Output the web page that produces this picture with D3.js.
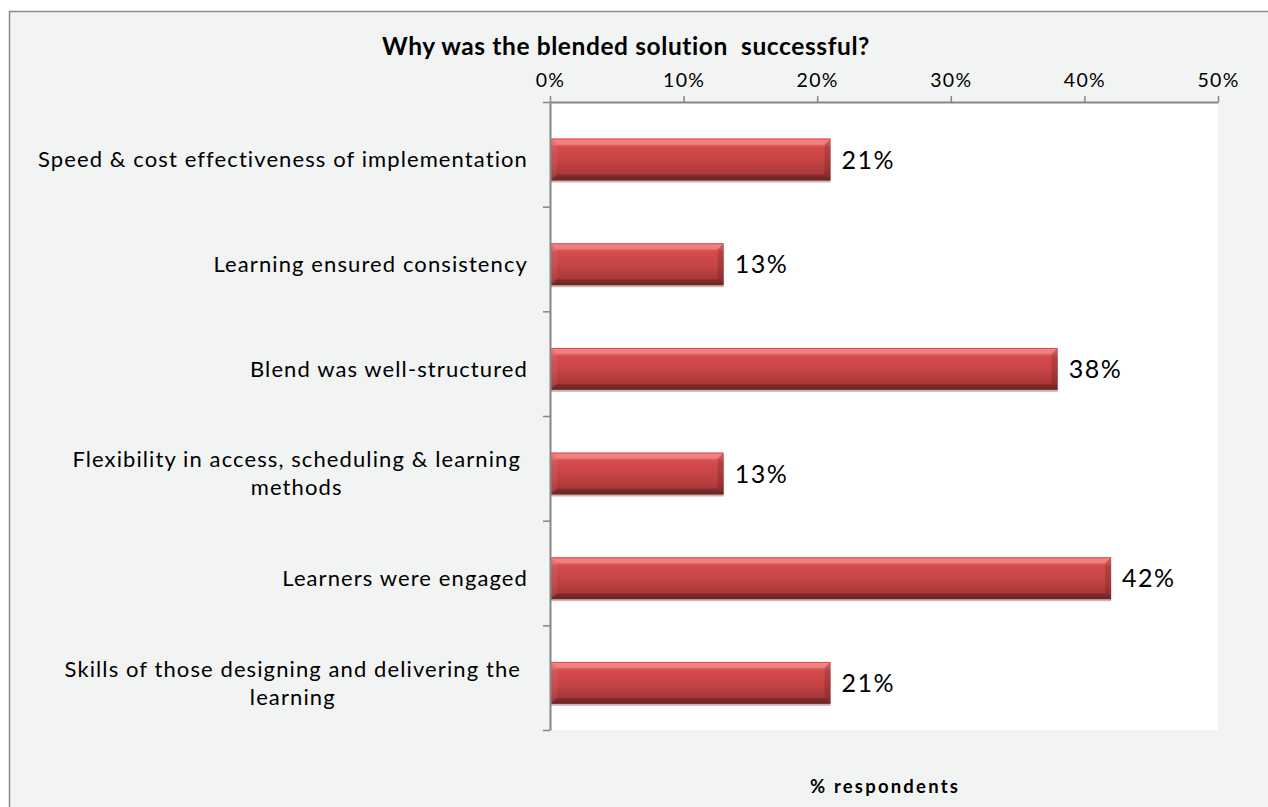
<!DOCTYPE html>
<html>
<head>
<meta charset="utf-8">
<script src="https://cdn.jsdelivr.net/npm/d3@7"></script>
<style>
  html, body { margin: 0; padding: 0; background: #ffffff; }
  svg { display: block; }
  text { font-family: Lato, "Open Sans", sans-serif; fill: #000; white-space: pre; }
</style>
</head>
<body>
<svg id="chart" width="1268" height="807"></svg>
<script>
// Survey results: reasons the blended solution was successful
const categories = [
  "Speed & cost effectiveness of implementation",
  "Learning ensured consistency",
  "Blend was well-structured",
  "Flexibility in access, scheduling & learning\nmethods",
  "Learners were engaged",
  "Skills of those designing and delivering the\nlearning"
];
const values = [0.21, 0.13, 0.38, 0.13, 0.42, 0.21];
const tickValues = [0, 0.1, 0.2, 0.3, 0.4, 0.5];
const chartTitle = "Why was the blended solution  successful?";
const axisTitle = "% respondents";

const W = 1268, H = 807;
const plot = { left: 550, right: 1218, top: 102, bottom: 730 };

const svg = d3.select("#chart");
const defs = svg.append("defs");

// Panel background and frame
svg.append("rect").attr("x", 0).attr("y", 0).attr("width", W).attr("height", H).attr("fill", "#ffffff");
svg.append("rect")
  .attr("x", 9.5).attr("y", 11.5).attr("width", W + 20).attr("height", H + 20)
  .attr("fill", "#f2f3f3").attr("stroke", "#8a8a8a").attr("stroke-width", 1.5);

// Plot area
svg.append("rect")
  .attr("x", plot.left).attr("y", plot.top)
  .attr("width", plot.right - plot.left).attr("height", plot.bottom - plot.top)
  .attr("fill", "#ffffff");

const x = d3.scaleLinear().domain([0, 0.5]).range([plot.left, plot.right]);
const y = d3.scaleBand().domain(categories).range([plot.top, plot.bottom]).padding(0);
const slot = d3.scaleLinear().domain([0, categories.length]).range([plot.top, plot.bottom]);

// Bar gradient with a bevelled look
const grad = defs.append("linearGradient").attr("id", "barGrad")
  .attr("x1", 0).attr("y1", 0).attr("x2", 0).attr("y2", 1);
[["0%", "#ec7070"], ["14%", "#e46464"], ["20%", "#d44d4c"], ["55%", "#c44343"], ["85%", "#aa3838"], ["100%", "#7e2c2c"]]
  .forEach(([o, c]) => grad.append("stop").attr("offset", o).attr("stop-color", c));

const barH = y.step() * 0.4;
const barOff = y.step() * 0.35;
const bev = 6;

const bars = svg.append("g").selectAll("g.bar")
  .data(categories.map((c, i) => ({ c, v: values[i] })))
  .join("g").attr("class", "bar");

bars.each(function(d) {
  const g = d3.select(this);
  const x0 = x(0) + 1, x1 = x(d.v), y0 = y(d.c) + barOff, y1 = y0 + barH;
  // soft shadow under the bar
  g.append("rect").attr("x", x0).attr("y", y0 + 2).attr("width", x1 - x0).attr("height", barH)
    .attr("fill", "#9c6a6a").attr("opacity", 0.5);
  g.append("rect").attr("x", x0).attr("y", y0).attr("width", x1 - x0).attr("height", barH)
    .attr("fill", "url(#barGrad)");
  const poly = (pts, fill, op) => g.append("polygon")
    .attr("points", pts.map(p => p.join(",")).join(" "))
    .attr("fill", fill).attr("opacity", op);
  poly([[x0, y0], [x1, y0], [x1 - bev, y0 + bev], [x0 + bev, y0 + bev]], "#ffb0b0", 0.35);
  poly([[x0, y0], [x0 + bev, y0 + bev], [x0 + bev, y1 - bev], [x0, y1]], "#ffffff", 0.06);
  poly([[x1, y0], [x1, y1], [x1 - bev, y1 - bev], [x1 - bev, y0 + bev]], "#000000", 0.14);
  poly([[x0, y1], [x1, y1], [x1 - bev, y1 - bev], [x0 + bev, y1 - bev]], "#000000", 0.18);
  g.append("line").attr("x1", x0).attr("x2", x1).attr("y1", y0 + 0.5).attr("y2", y0 + 0.5)
    .attr("stroke", "#e04848").attr("stroke-width", 1);
});

// Value labels
svg.append("g").selectAll("text")
  .data(categories.map((c, i) => ({ c, v: values[i] })))
  .join("text")
  .attr("x", d => x(d.v) + 11)
  .attr("y", d => y(d.c) + barOff + barH / 2)
  .attr("dy", "0.36em")
  .attr("font-size", 25)
  .attr("letter-spacing", 1.5)
  .text(d => d3.format(".0%")(d.v));

// Top value axis
const xAxis = svg.append("g")
  .attr("transform", `translate(0,${plot.top})`)
  .call(d3.axisTop(x).tickValues(tickValues).tickFormat(d3.format(".0%"))
    .tickSize(6).tickSizeOuter(0).tickPadding(9));
xAxis.select(".domain").attr("stroke", "#868686").attr("stroke-width", 2);
xAxis.selectAll(".tick line").attr("stroke", "#868686").attr("stroke-width", 1.5);
xAxis.selectAll(".tick text")
  .attr("font-size", 19.5).attr("letter-spacing", 1.3)
  .attr("font-family", "Lato, sans-serif").attr("fill", "#000");

// Left category axis (ticks between categories)
const yAxis = svg.append("g")
  .attr("transform", `translate(${plot.left},0)`)
  .call(d3.axisLeft(slot).tickValues(d3.range(categories.length + 1)).tickFormat("")
    .tickSize(7).tickSizeOuter(0));
yAxis.select(".domain").attr("stroke", "#868686").attr("stroke-width", 2);
yAxis.selectAll(".tick line").attr("stroke", "#868686").attr("stroke-width", 1.5);

// Category labels (multi-line labels are centred as a block)
const labelRight = plot.left - 22;
const lineGap = 28;
const catG = svg.append("g");
categories.forEach(c => {
  const lines = c.split("\n");
  const cy = y(c) + barOff + barH / 2;
  const t = catG.append("text").attr("font-size", 22).attr("letter-spacing", 1.1);
  lines.forEach((ln, i) => {
    t.append("tspan").text(ln)
      .attr("y", cy + (i - (lines.length - 1) / 2) * lineGap)
      .attr("dy", "0.36em");
  });
  if (lines.length === 1) {
    t.attr("text-anchor", "end").selectAll("tspan").attr("x", labelRight);
  } else {
    let maxW = 0;
    t.selectAll("tspan").each(function() { maxW = Math.max(maxW, this.getComputedTextLength()); });
    t.attr("text-anchor", "middle").selectAll("tspan").attr("x", labelRight - 7 - maxW / 2);
  }
});

// Titles
svg.append("text")
  .attr("x", 626).attr("y", 55)
  .attr("text-anchor", "middle")
  .attr("font-size", 24.5).attr("font-weight", "bold").attr("letter-spacing", 0.6)
  .text(chartTitle);

svg.append("text")
  .attr("x", 885).attr("y", 793)
  .attr("text-anchor", "middle")
  .attr("font-size", 18.5).attr("font-weight", "bold").attr("letter-spacing", 2.2)
  .text(axisTitle);
</script>
</body>
</html>
